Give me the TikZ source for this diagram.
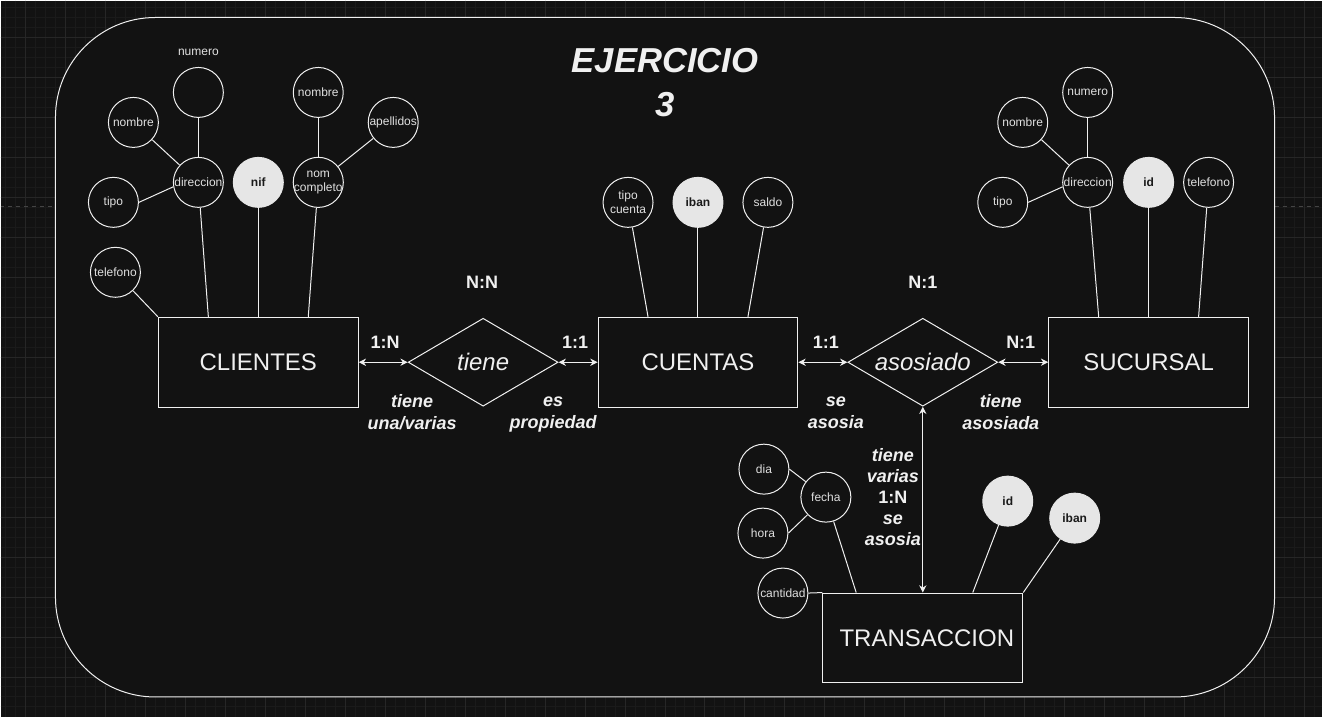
\documentclass[tikz,border=0pt]{standalone}
\usepackage{fontspec}
\setmainfont{Liberation Sans}
\usetikzlibrary{shapes.geometric,arrows.meta}
\definecolor{fondo}{HTML}{121212}
\definecolor{rejilla}{HTML}{1A1A1A}
\definecolor{rejillamayor}{HTML}{262626}
\definecolor{corte}{HTML}{444444}
\definecolor{linea}{HTML}{F0F0F0}
\definecolor{textoatr}{HTML}{E0E0E0}
\definecolor{relleno}{HTML}{E6E6E6}
\definecolor{oscuro}{HTML}{1A1A1A}

\begin{document}
\begin{tikzpicture}[x=0.75pt,y=-0.75pt,line width=0.75pt,
    entidad/.style={draw=linea, text=linea, minimum width=150pt, minimum height=67.5pt, inner sep=0pt, font=\fontsize{18}{21}\selectfont},
    relacion/.style={diamond, aspect=1.7, draw=linea, text=linea, minimum width=112.5pt, minimum height=66pt, inner sep=0pt, font=\itshape\fontsize{18}{21}\selectfont},
    atributo/.style={circle, draw=linea, text=textoatr, minimum size=37.5pt, inner sep=-1pt, align=center, font=\fontsize{9}{10.5}\selectfont},
    clave/.style={atributo, fill=relleno, draw=relleno, text=oscuro, font=\bfseries\fontsize{9}{10.5}\selectfont},
    etiqueta/.style={text=linea, align=center, font=\bfseries\itshape\fontsize{13.5}{16.5}\selectfont},
    cardinal/.style={text=linea, font=\bfseries\fontsize{13.5}{16.5}\selectfont},
    flecha/.style={draw=linea, >={Stealth[length=5.5pt,width=5.5pt]}, <->},
    union/.style={draw=linea}]

    \fill[fondo] (0,0) rectangle (1322,717);
    \foreach \gx in {5,15,...,1315} \draw[rejilla] (\gx,0) -- (\gx,717);
    \foreach \gy in {7,17,...,707} \draw[rejilla] (0,\gy) -- (1322,\gy);
    \foreach \gx in {25,65,...,1305} \draw[rejillamayor] (\gx,0) -- (\gx,717);
    \foreach \gy in {37,77,...,697} \draw[rejillamayor] (0,\gy) -- (1322,\gy);
    \draw[corte, dash pattern=on 3pt off 3pt] (0,206) -- (55,206);
    \draw[corte, dash pattern=on 3pt off 3pt] (1275,206) -- (1322,206);
    \draw[linea, fill=fondo, rounded corners=75pt] (55,17) rectangle (1275,697);

    \node[text=linea, align=center, font=\bfseries\itshape\fontsize{26}{33}\selectfont] (titulo) at (665,82) {EJERCICIO\\3};

    \node[entidad] (clientes) at (258,362) {CLIENTES};
    \node[relacion] (tiene) at (483,362) {tiene};
    \node[entidad] (cuentas) at (698,362) {CUENTAS};
    \node[relacion] (asosiado) at (923,362) {asosiado};
    \node[entidad] (sucursal) at (1149,362) {SUCURSAL};
    \node[entidad] (transaccion) at (923,638) {\hspace*{6pt}TRANSACCION};

    \node[atributo] (cNumero) at (198,92) {};
    \node[text=textoatr, font=\fontsize{9}{10.5}\selectfont] (cNumeroTxt) at (198,52) {numero};
    \node[atributo] (cNombre) at (133,122) {nombre};
    \node[atributo] (cTipo) at (113,202) {tipo};
    \node[atributo] (cDireccion) at (198,182) {direccion};
    \node[clave] (cNif) at (258,182) {nif};
    \node[atributo] (cNomCompleto) at (318,182) {nom\\completo};
    \node[atributo] (cNombrePila) at (318,92) {nombre};
    \node[atributo] (cApellidos) at (393,122) {apellidos};
    \node[atributo] (cTelefono) at (115,272) {telefono};

    \draw[union] (cNumero) -- (cDireccion);
    \draw[union] (cNombre) -- (cDireccion);
    \draw[union] (cTipo.east) -- (cDireccion.190);
    \draw[union] (cNombrePila) -- (cNomCompleto);
    \draw[union] (cApellidos) -- (cNomCompleto);
    \draw[union] (cDireccion) -- ([xshift=-37.5pt]clientes.north);
    \draw[union] (cNif) -- (clientes.north);
    \draw[union] (cNomCompleto) -- ([xshift=37.5pt]clientes.north);
    \draw[union] (cTelefono) -- (clientes.north west);

    \node[atributo] (uTipo) at (628,202) {tipo\\cuenta};
    \node[clave] (uIban) at (698,202) {iban};
    \node[atributo] (uSaldo) at (768,202) {saldo};
    \draw[union] (uTipo) -- ([xshift=-37.5pt]cuentas.north);
    \draw[union] (uIban) -- (cuentas.north);
    \draw[union] (uSaldo) -- ([xshift=37.5pt]cuentas.north);

    \node[atributo] (sNumero) at (1088,92) {numero};
    \node[atributo] (sNombre) at (1023,122) {nombre};
    \node[atributo] (sTipo) at (1003,202) {tipo};
    \node[atributo] (sDireccion) at (1088,182) {direccion};
    \node[clave] (sId) at (1149,182) {id};
    \node[atributo] (sTelefono) at (1209,182) {telefono};
    \draw[union] (sNumero) -- (sDireccion);
    \draw[union] (sNombre) -- (sDireccion);
    \draw[union] (sTipo.east) -- (sDireccion.190);
    \draw[union] (sDireccion) -- ([xshift=-37.5pt]sucursal.north);
    \draw[union] (sId) -- (sucursal.north);
    \draw[union] (sTelefono) -- ([xshift=37.5pt]sucursal.north);

    \node[atributo] (tDia) at (764,469) {dia};
    \node[atributo] (tFecha) at (826,497) {fecha};
    \node[atributo] (tHora) at (763,533) {hora};
    \node[atributo] (tCantidad) at (783,593) {cantidad};
    \node[clave] (tId) at (1008,501) {id};
    \node[clave] (tIban) at (1075,518) {iban};
    \draw[union] (tDia.east) -- (tFecha);
    \draw[union] (tHora.east) -- (tFecha);
    \draw[union] (tFecha) -- ([xshift=-50pt]transaccion.north);
    \draw[union] (tCantidad.east) -- (transaccion.north west);
    \draw[union] (tId) -- ([xshift=37.5pt]transaccion.north);
    \draw[union] (tIban) -- (transaccion.north east);

    \draw[flecha] (clientes.east) -- (tiene.west);
    \draw[flecha] (tiene.east) -- (cuentas.west);
    \draw[flecha] (cuentas.east) -- (asosiado.west);
    \draw[flecha] (asosiado.east) -- (sucursal.west);
    \draw[flecha] (asosiado.south) -- (transaccion.north);

    \node[cardinal] (nTiene) at (482,282) {N:N};
    \node[cardinal] (nClientes) at (385,342) {1:N};
    \node[cardinal] (nCuentas) at (575,342) {1:1};
    \node[etiqueta] (lUna) at (412,412) {tiene\\una/varias};
    \node[etiqueta] (lPropiedad) at (553,414) {es\\propiedad};
    \node[cardinal] (nAsosiado) at (923,282) {N:1};
    \node[cardinal] (nCuentasB) at (826,342) {1:1};
    \node[cardinal] (nSucursal) at (1021,342) {N:1};
    \node[etiqueta] (lSe) at (836,413) {se\\asosia};
    \node[etiqueta] (lAsosiada) at (1001,412) {tiene\\asosiada};
    \node[etiqueta, font=\bfseries\itshape\fontsize{13.5}{15.75}\selectfont] (lVarias) at (893,497) {tiene\\varias\\\upshape 1:N\\se\\asosia};
\end{tikzpicture}
\end{document}
